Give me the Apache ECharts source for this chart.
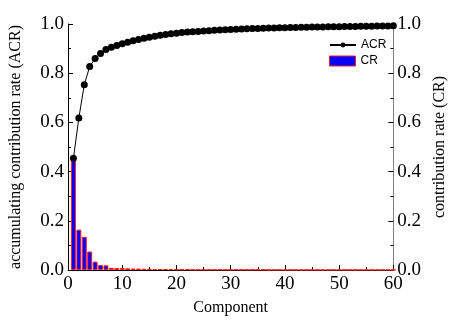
<!DOCTYPE html>
<html><head><meta charset="utf-8">
<script src="https://cdn.jsdelivr.net/npm/echarts@6/dist/echarts.min.js"></script>
<style>html,body{margin:0;padding:0;background:#fff}#c{width:456px;height:323px}</style>
</head><body><div id="c"></div>
<script>
var components = [];
for (var i = 1; i <= 60; i++) components.push(i);
var acrValues = [0.454,0.618,0.753,0.827,0.860,0.880,0.896,0.905,0.913,0.920,
0.926,0.932,0.937,0.942,0.946,0.950,0.954,0.957,0.960,0.962,
0.965,0.967,0.969,0.970,0.972,0.973,0.975,0.976,0.977,0.978,
0.979,0.980,0.981,0.982,0.982,0.983,0.984,0.984,0.985,0.985,
0.986,0.986,0.987,0.987,0.988,0.988,0.988,0.989,0.989,0.989,
0.990,0.990,0.990,0.991,0.991,0.991,0.992,0.992,0.992,0.993];
var crValues = [0.454,0.164,0.135,0.075,0.034,0.020,0.019,0.009,0.008,0.008,
0.007,0.006,0.006,0.005,0.005,0.004,0.004,0.004,0.003,0.003,
0.003,0.003,0.002,0.002,0.002,0.002,0.002,0.002,0.002,0.002,
0.002,0.002,0.002,0.002,0.002,0.002,0.001,0.001,0.001,0.001,
0.001,0.001,0.001,0.001,0.001,0.001,0.001,0.001,0.001,0.001,
0.001,0.001,0.001,0.001,0.001,0.001,0.001,0.001,0.001,0.001];
var xTicks = [0,10,20,30,40,50,60];
var yTicks = [0.0,0.2,0.4,0.6,0.8,1.0];

var serif = 'Liberation Serif';
var chart = echarts.init(document.getElementById('c'), null, {renderer:'canvas'});
function yAxisCfg(pos, name, lineColor) {
  return {
    type:'value', position:pos, min:0, max:1, interval:0.2,
    name:name, nameLocation:'middle', nameGap: pos==='left'?44:36,
    nameTextStyle:{fontFamily:serif,fontSize:16,color:'#000'},
    axisLine:{show:true,lineStyle:{color:lineColor,width:1}},
    axisTick:{show:true,inside:true,length:5,lineStyle:{color:'#000'}},
    minorTick:{show:true,splitNumber:2,length:3,lineStyle:{color:'#000'}},
    splitLine:{show:false},
    axisLabel:{fontFamily:serif,fontSize:19,color:'#000',margin:4,
      formatter:function(v){return yTicks.some(function(t){return Math.abs(t-v)<1e-9;})?v.toFixed(1):'';}}
  };
}
chart.setOption({
  animation:false,
  grid:{left:66,right:57,top:24,bottom:53},
  legend:[{
    orient:'vertical', left:329, top:39, padding:0, itemWidth:26, itemHeight:6,
    textStyle:{fontFamily:'Liberation Sans',fontSize:12,color:'#000'},
    data:[{name:'ACR'}]
  },{
    orient:'vertical', left:329, top:55, padding:0, itemWidth:26, itemHeight:10,
    textStyle:{fontFamily:'Liberation Sans',fontSize:12,color:'#000'},
    data:[{name:'CR',icon:'rect',itemStyle:{color:'#0000ff',borderColor:'#ff2020',borderWidth:1}}]
  }],
  xAxis:{
    type:'value', min:0, max:60, interval:10,
    name:'Component', nameLocation:'middle', nameGap:30,
    nameTextStyle:{fontFamily:serif,fontSize:16,color:'#000'},
    axisLine:{show:true,onZero:false,lineStyle:{color:'#000'}},
    axisTick:{show:true,inside:true,length:5,lineStyle:{color:'#000'}},
    minorTick:{show:true,splitNumber:2,length:3,lineStyle:{color:'#000'}},
    splitLine:{show:false},
    axisLabel:{fontFamily:serif,fontSize:19,color:'#000',margin:5,
      formatter:function(v){return xTicks.indexOf(v)>=0?String(v):'';}}
  },
  yAxis:[yAxisCfg('left','accumulating contribution rate (ACR)','#000'),
         yAxisCfg('right','contribution rate (CR)','#808080')],
  series:[
    {name:'CR', type:'bar', yAxisIndex:1, barWidth:5,
     data:components.map(function(c,i){return [c,crValues[i]];}),
     itemStyle:{color:'#0000ff',borderColor:'#ff2020',borderWidth:1}},
    {name:'ACR', type:'line', yAxisIndex:0, symbol:'circle', symbolSize:7,
     data:components.map(function(c,i){return [c,acrValues[i]];}),
     lineStyle:{color:'#000',width:1}, itemStyle:{color:'#000'}, z:5}
  ]
});
</script></body></html>
